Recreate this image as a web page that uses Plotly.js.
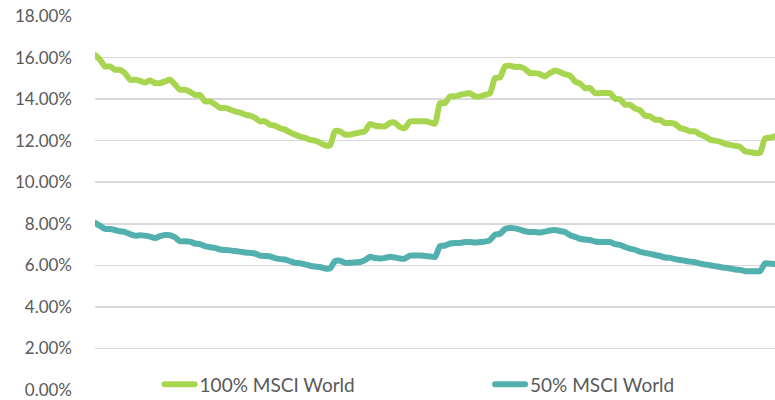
<!DOCTYPE html>
<html>
<head>
<meta charset="utf-8">
<script src="https://cdn.plot.ly/plotly-3.0.1.min.js"></script>
<style>
html,body{margin:0;padding:0;background:#fff;}
#chart{width:775px;height:400px;}
#chart path.js-line{stroke-linejoin:round;stroke-linecap:round;}
</style>
</head>
<body>
<div id="chart"></div>
<script>
const seriesNames = ["100% MSCI World", "50% MSCI World"];

const msci100 = [
16.13,15.9,15.57,15.57,15.41,15.41,15.25,14.93,14.93,14.88,
14.8,14.9,14.77,14.77,14.85,14.93,14.7,14.45,14.45,14.35,
14.2,14.2,13.89,13.89,13.75,13.58,13.58,13.5,13.41,13.35,
13.25,13.2,13.1,12.93,12.93,12.77,12.72,12.6,12.53,12.4,
12.29,12.2,12.14,12.04,12.0,11.9,11.78,11.78,12.45,12.45,
12.29,12.29,12.35,12.4,12.45,12.8,12.72,12.69,12.69,12.86,
12.86,12.65,12.61,12.93,12.93,12.93,12.93,12.88,12.82,13.81,
13.81,14.13,14.13,14.2,14.25,14.29,14.13,14.13,14.2,14.29,
15.01,15.05,15.57,15.6,15.55,15.55,15.45,15.25,15.25,15.2,
15.09,15.25,15.38,15.3,15.2,15.12,14.85,14.75,14.53,14.53,
14.29,14.29,14.29,14.29,14.02,14.0,13.73,13.73,13.55,13.46,
13.2,13.17,13.01,13.0,12.85,12.85,12.8,12.61,12.55,12.45,
12.45,12.3,12.2,12.05,12.0,11.95,11.85,11.8,11.75,11.7,
11.49,11.45,11.41,11.41,12.1,12.15,12.21
];

const msci50 = [
8.04,7.9,7.75,7.75,7.7,7.64,7.6,7.5,7.43,7.45,
7.43,7.38,7.32,7.4,7.46,7.45,7.35,7.16,7.16,7.14,
7.05,7.02,6.92,6.87,6.84,6.76,6.74,6.72,6.69,6.66,
6.62,6.6,6.57,6.47,6.45,6.43,6.35,6.3,6.28,6.2,
6.12,6.1,6.05,5.98,5.94,5.92,5.85,5.85,6.2,6.22,
6.12,6.12,6.14,6.16,6.25,6.41,6.35,6.33,6.36,6.41,
6.38,6.33,6.33,6.47,6.47,6.47,6.45,6.43,6.4,6.92,
6.95,7.05,7.08,7.08,7.12,7.12,7.1,7.12,7.14,7.22,
7.48,7.52,7.75,7.8,7.78,7.72,7.64,7.6,7.6,7.58,
7.62,7.68,7.7,7.65,7.6,7.45,7.37,7.28,7.24,7.22,
7.15,7.12,7.12,7.12,7.02,6.98,6.88,6.8,6.75,6.65,
6.6,6.55,6.5,6.45,6.38,6.36,6.3,6.26,6.22,6.18,
6.15,6.08,6.04,6.0,5.96,5.92,5.88,5.85,5.8,5.78,
5.72,5.72,5.72,5.72,6.09,6.08,6.07
];

const periods = msci100.map((_, i) => i);
const yTickValues = [0, 2, 4, 6, 8, 10, 12, 14, 16, 18];

const traces = [
  {x: periods, y: msci100, name: seriesNames[0], type: "scatter", mode: "lines",
   line: {color: "#A8D54F", width: 6, shape: "spline", smoothing: 0.6}, legend: "legend"},
  {x: periods, y: msci50, name: seriesNames[1], type: "scatter", mode: "lines",
   line: {color: "#52B0AE", width: 6, shape: "spline", smoothing: 0.6}, legend: "legend2"}
];

const legendFont = {family: "Lato, 'Open Sans', sans-serif", size: 19, color: "#595959"};

const layout = {
  width: 775, height: 400,
  margin: {l: 95, r: 0, t: 16, b: 10, pad: 0, autoexpand: false},
  paper_bgcolor: "#ffffff", plot_bgcolor: "#ffffff",
  font: {family: "Lato, 'Open Sans', sans-serif", size: 17, color: "#595959"},
  showlegend: true,
  legend: {orientation: "h", x: 0.095, xanchor: "left", y: 0.015, yanchor: "middle",
    bgcolor: "rgba(0,0,0,0)", font: legendFont},
  legend2: {orientation: "h", x: 0.581, xanchor: "left", y: 0.015, yanchor: "middle",
    bgcolor: "rgba(0,0,0,0)", font: legendFont},
  xaxis: {range: [0, periods.length - 1], showgrid: false, zeroline: false,
    showline: false, showticklabels: false, ticks: "", fixedrange: true},
  yaxis: {range: [0, 18], tickvals: yTickValues, ticktext: yTickValues.map(v => v.toFixed(2) + "%"),
    showgrid: true, gridcolor: "#D9D9D9", gridwidth: 1.5, zeroline: false, showline: false,
    ticks: "", ticklabelstandoff: 22, fixedrange: true}
};

Plotly.newPlot("chart", traces, layout, {displayModeBar: false, staticPlot: true});
</script>
</body>
</html>
